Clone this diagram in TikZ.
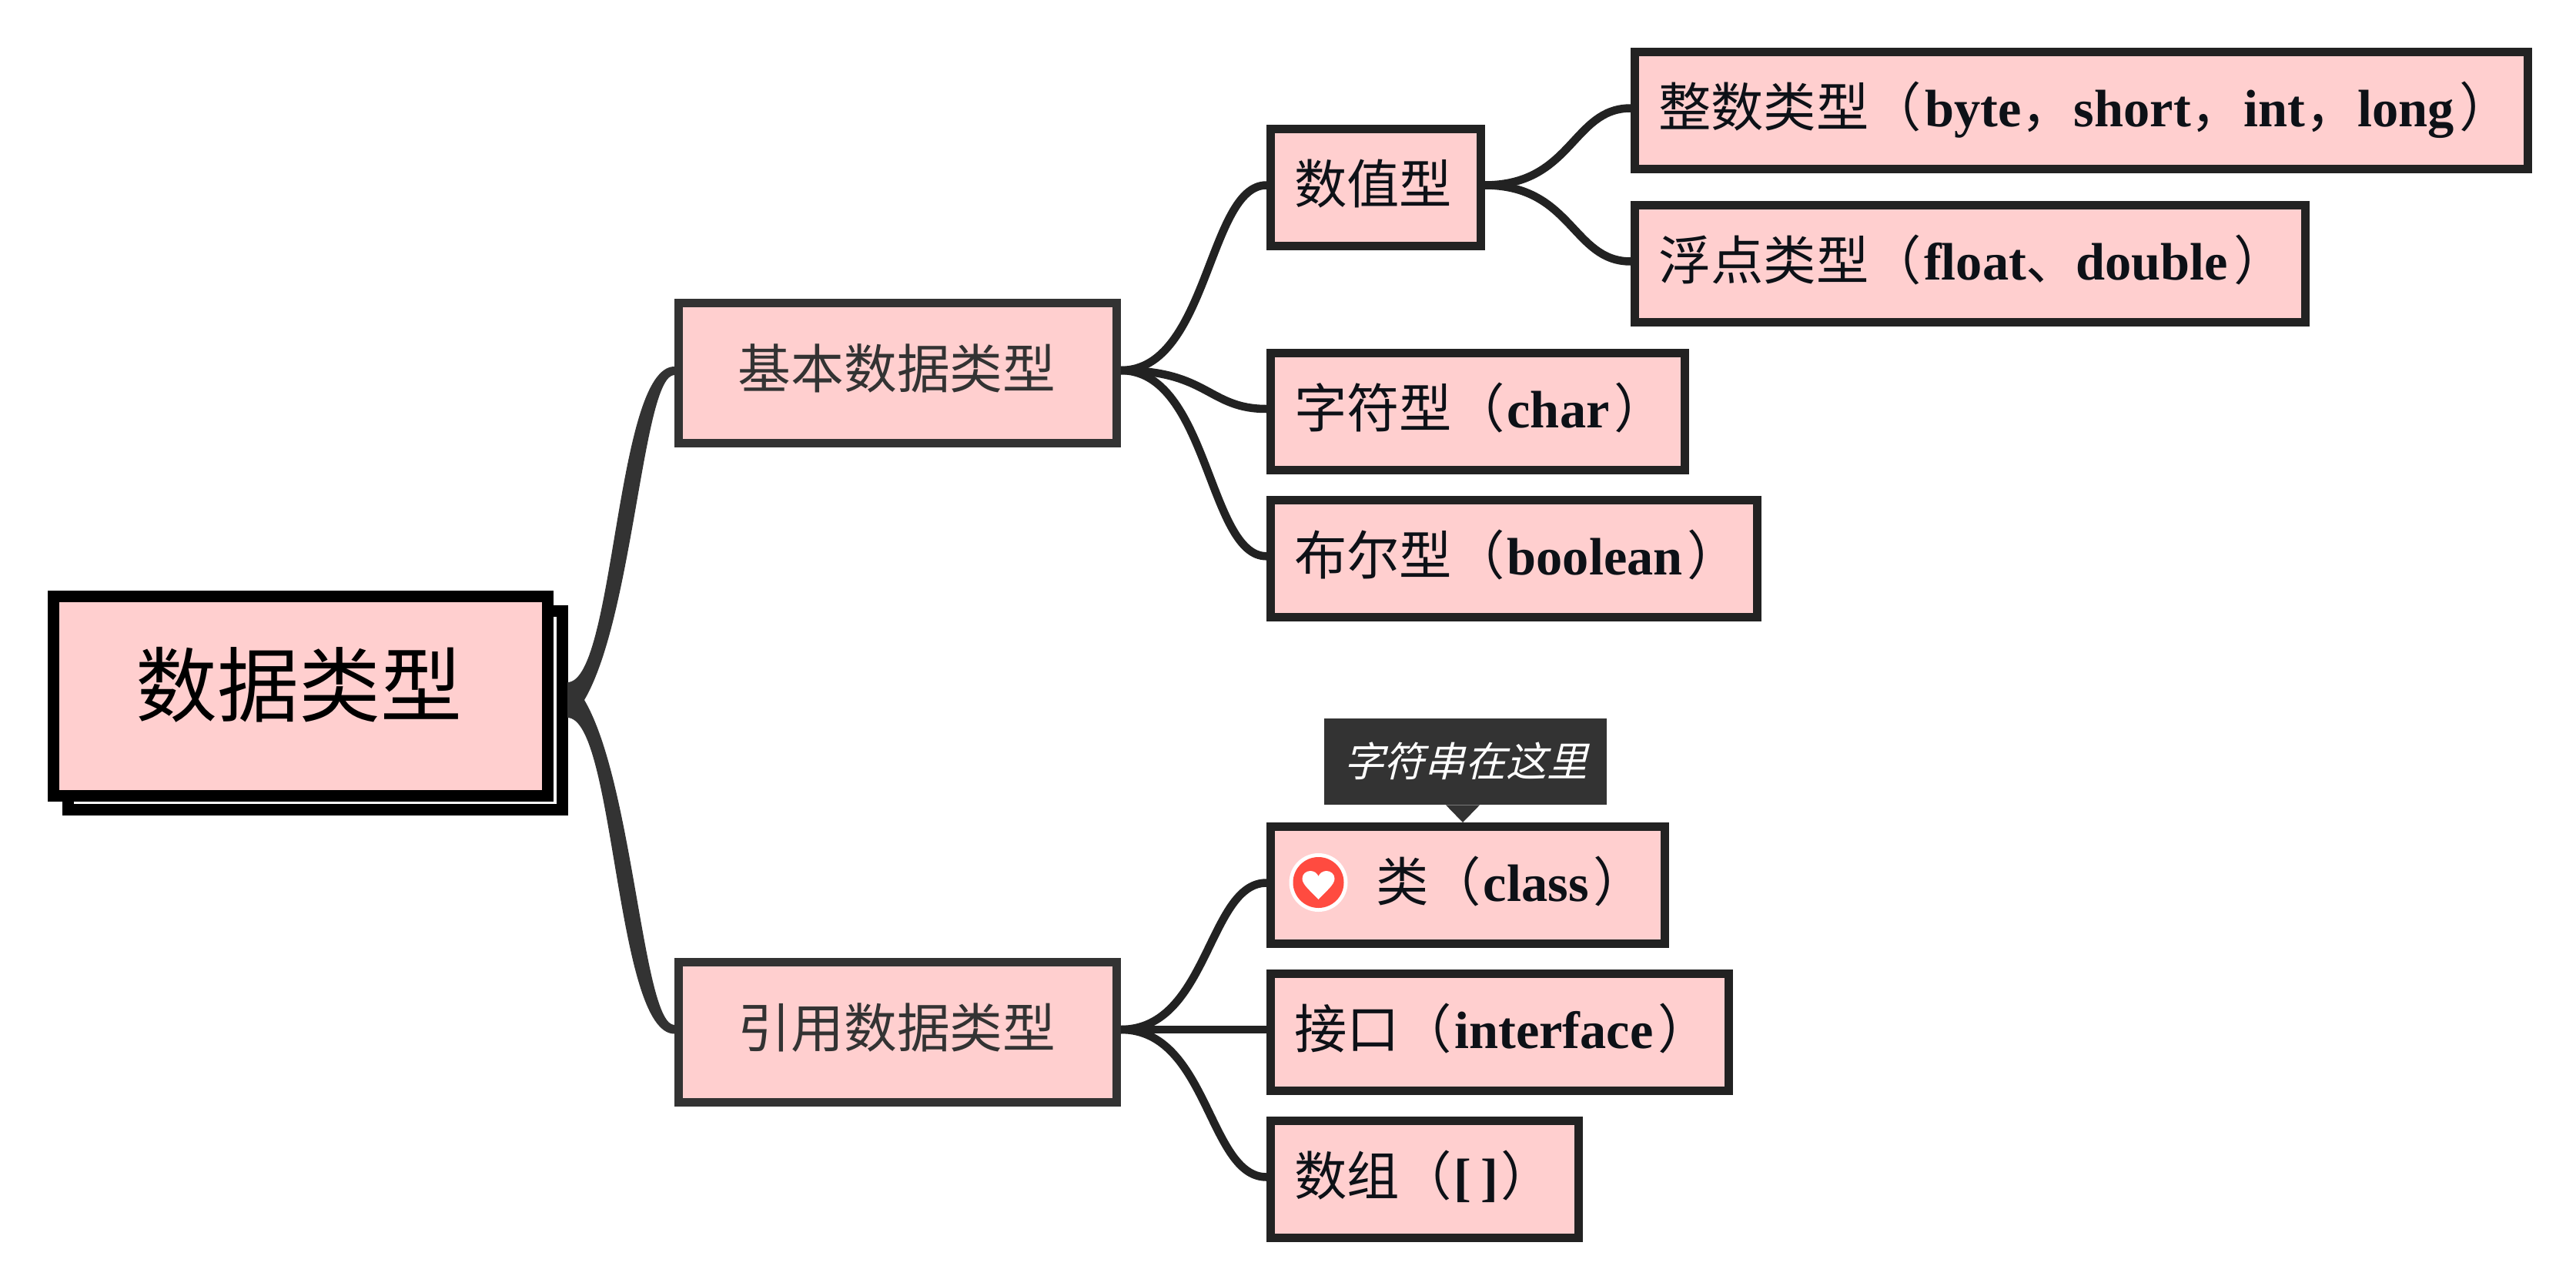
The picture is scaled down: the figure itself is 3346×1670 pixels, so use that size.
\documentclass[tikz,border=0pt]{standalone}
\usepackage{fontspec}
\usetikzlibrary{calc}
\setmainfont{Liberation Serif}
\newfontfamily\cjk{Noto Sans CJK SC}
\newfontfamily\cjkslant[FakeSlant=0.25]{Noto Sans CJK SC}
\newcommand{\lat}[1]{\kern1.5pt{\rmfamily\bfseries #1}\kern3pt}
\newcommand{\latm}[1]{{\rmfamily\bfseries #1}}
\definecolor{pinkfill}{HTML}{FFCFCF}
\definecolor{darkA}{HTML}{333333}
\definecolor{darkB}{HTML}{222222}
\definecolor{inkC}{HTML}{0D1117}
\definecolor{heartred}{HTML}{FF4B40}
\tikzset{
  rootbox/.style={draw=black,line width=7.5pt,fill=pinkfill,rectangle,outer sep=3.75pt,inner sep=0pt,
    minimum width=321pt,minimum height=129.5pt,text height=33pt,text depth=7.5pt,
    font=\cjk\fontsize{53pt}{60pt}\selectfont,text=black},
  rootshadow/.style={draw=black,line width=7.5pt,fill=white,rectangle,outer sep=3.75pt,inner sep=0pt,
    minimum width=321pt,minimum height=129pt},
  mainbox/.style={draw=darkA,line width=5.5pt,fill=pinkfill,rectangle,outer sep=2.75pt,inner sep=0pt,
    minimum width=284.5pt,minimum height=91pt,text height=25pt,text depth=5pt,
    font=\cjk\fontsize{34.4pt}{40pt}\selectfont,text=darkA},
  subbox/.style={draw=darkB,line width=5.5pt,fill=pinkfill,rectangle,outer sep=2.75pt,inner xsep=15.25pt,inner ysep=0pt,
    minimum height=76pt,text height=26pt,text depth=5pt,align=left,
    font=\cjk\fontsize{34.2pt}{40pt}\selectfont,text=inkC},
  tipbox/.style={fill=darkA,draw=none,rectangle,inner sep=0pt,minimum width=183.5pt,minimum height=56pt,
    text height=23pt,text depth=4pt,font=\cjkslant\fontsize{26.4pt}{30pt}\selectfont,text=white},
  trunk/.style={fill=darkA,draw=none},
  branch/.style={draw=darkB,line width=5.25pt,line cap=butt},
}
\newcommand{\linkboxes}[2]{%
  \coordinate (la) at ($(#1.east)+(0,-3)$);
  \coordinate (lb) at ($(#2.west)+(0,-3)$);
  \coordinate (lm) at ($(la)!0.6!(lb)$);
  \draw[branch] (la) .. controls (lm |- la) and (lm |- lb) .. (lb);
}
\begin{document}
\begin{tikzpicture}[x=0.5pt,y=-0.5pt]
\useasboundingbox[fill=white] (0,0) rectangle (3346,1670);
% nodes
\node[rootshadow] (shadow) at (409.5,922.5) {};
\node[rootbox] (root) at (390.5,904) {\kern-2pt 数据类型};
\node[mainbox] (basic) at (1166,484) {\kern-1pt 基本数据类型};
\node[mainbox] (refs) at (1166,1340) {\kern-1pt 引用数据类型};
\node[subbox,minimum width=136.25pt,text width=105.75pt] (num) at (1786.75,243.5) {数值型};
\node[subbox,minimum width=269pt,text width=238.5pt] (chr) at (1919.5,534) {字符型（\lat{char}）};
\node[subbox,minimum width=316pt,text width=285.5pt] (bool) at (1966.5,725.3) {布尔型（\lat{boolean}）};
\node[subbox,minimum width=580pt,text width=549.5pt] (int) at (2703.5,143.5) {整数类型（\kern2pt\latm{byte}，\latm{short}，\latm{int}，\latm{long}\kern3.5pt）};
\node[subbox,minimum width=435.5pt,text width=405pt] (flt) at (2559,342.5) {浮点类型（\kern1.5pt\latm{float}、\kern-2pt\latm{double}\kern3.5pt）};
\node[subbox,minimum width=256pt,text width=225.5pt] (cls) at (1906.5,1149.5) {\hspace*{53pt}类（\lat{class}）};
\node[subbox,minimum width=297.25pt,text width=266.75pt] (ifc) at (1947.75,1340) {接口（\lat{interface}）};
\node[subbox,minimum width=199.75pt,text width=169.25pt] (arr) at (1850.25,1531.5) {数组（\kern1pt\mbox{\rmfamily\bfseries\spaceskip=6.5pt [ ]}\kern1.5pt）};
% tooltip
\node[tipbox] (tip) at (1903.5,989) {字符串在这里};
\fill[darkA] ($(tip.south)+(-25.5,0)$) -- ($(tip.south)+(18.5,0)$) -- ($(cls.north)+(-6.5,0)$) -- cycle;
% heart icon
\node[circle,fill=white,draw=none,minimum size=38pt,inner sep=0pt] (iconring) at (1712.5,1146) {};
\node[circle,fill=heartred,draw=none,minimum size=33pt,inner sep=0pt] (icon) at (1712.5,1146) {};
\begin{scope}[shift={(icon.center)}]
\fill[white] (0,22) .. controls (-10,11) and (-21,3) .. (-21,-5)
  .. controls (-21,-11) and (-16,-15) .. (-10.5,-15)
  .. controls (-5.5,-15) and (-1.5,-12) .. (0,-8)
  .. controls (1.5,-12) and (5.5,-15) .. (10.5,-15)
  .. controls (16,-15) and (21,-11) .. (21,-5)
  .. controls (21,3) and (10,11) .. (0,22) -- cycle;
\end{scope}
% tapered trunks
\coordinate (ua) at ($(shadow.east)+(-1,-36.5)$);
\coordinate (ub) at ($(basic.west)+(0,-8)$);
\coordinate (uc) at ($(basic.west)+(0,3)$);
\coordinate (un) at ($(shadow.east)+(21,-13.5)$);
\coordinate (um) at ($(shadow.east)+(-1,-13.5)$);
\fill[trunk] (ua) .. controls ($(ua)+(62,0)$) and ($(ub)+(-77,0)$) .. (ub) -- (uc)
  .. controls ($(uc)+(-41,0)$) and ($(un)+(64,-109)$) .. (un) -- (um) -- cycle;
\coordinate (va) at ($(shadow.east)+(-1,9.5)$);
\coordinate (vb) at ($(refs.west)+(0,2.5)$);
\coordinate (vc) at ($(refs.west)+(0,-9)$);
\coordinate (vn) at ($(shadow.east)+(21,-13.5)$);
\coordinate (vm) at ($(shadow.east)+(-1,-13.5)$);
\fill[trunk] (va) .. controls ($(va)+(62,0)$) and ($(vb)+(-77,0)$) .. (vb) -- (vc)
  .. controls ($(vc)+(-41,0)$) and ($(vn)+(64,109)$) .. (vn) -- (vm) -- cycle;
% branches
\linkboxes{basic}{num}
\linkboxes{basic}{chr}
\linkboxes{basic}{bool}
\linkboxes{num}{int}
\linkboxes{num}{flt}
\linkboxes{refs}{cls}
\linkboxes{refs}{ifc}
\linkboxes{refs}{arr}
\end{tikzpicture}
\end{document}
